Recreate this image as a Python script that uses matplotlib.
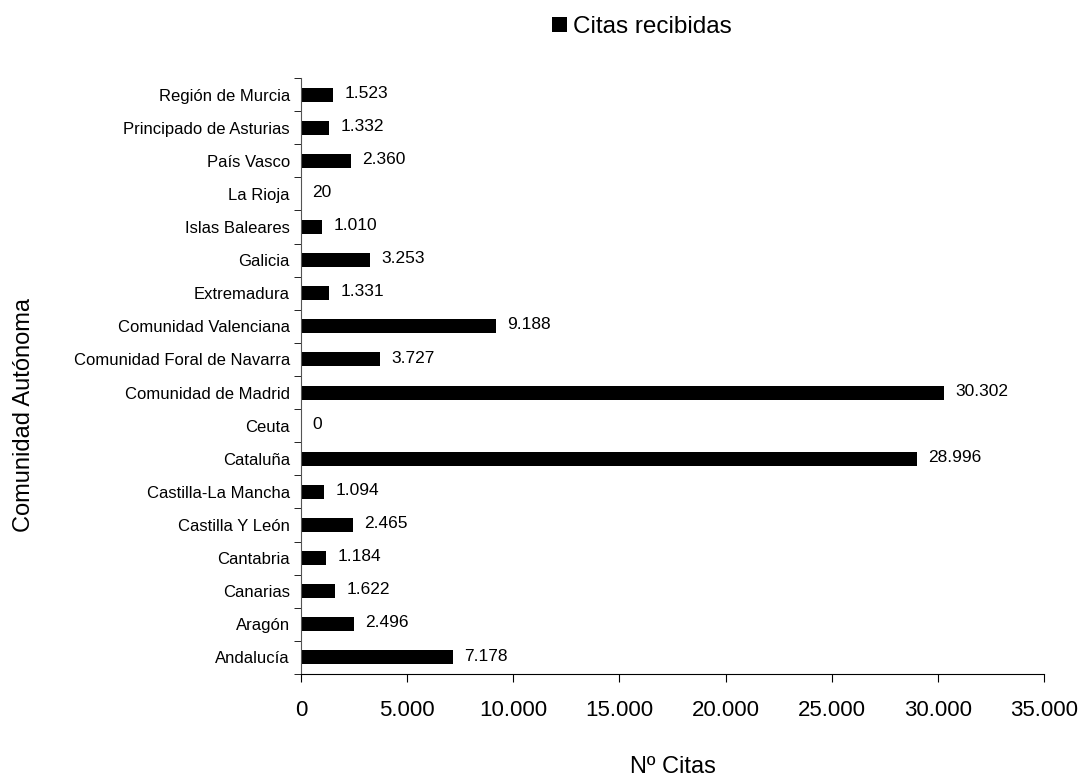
import numpy as np
import matplotlib.pyplot as plt
from matplotlib.ticker import FuncFormatter

plt.rcParams['font.family'] = ['Liberation Sans', 'DejaVu Sans']

comunidades = ['Andalucía', 'Aragón', 'Canarias', 'Cantabria', 'Castilla Y León',
               'Castilla-La Mancha', 'Cataluña', 'Ceuta', 'Comunidad de Madrid',
               'Comunidad Foral de Navarra', 'Comunidad Valenciana', 'Extremadura',
               'Galicia', 'Islas Baleares', 'La Rioja', 'País Vasco',
               'Principado de Asturias', 'Región de Murcia']
citas = [7178, 2496, 1622, 1184, 2465, 1094, 28996, 0, 30302,
         3727, 9188, 1331, 3253, 1010, 20, 2360, 1332, 1523]


def miles(v):
    return '{:,.0f}'.format(v).replace(',', '.')


fig = plt.figure(figsize=(10.78, 7.78), dpi=100)
ax = fig.add_axes([301/1078, 1 - 674/778, 743/1078, 596/778])

y = np.arange(len(comunidades))
ax.barh(y, citas, height=0.42, color='black', label='Citas recibidas')

# etiquetas de valor
for yi, v in zip(y, citas):
    ax.annotate(miles(v), (v, yi), xytext=(8, 1), textcoords='offset points',
                va='center', ha='left', fontsize=12.5)

ax.set_xlim(0, 35000)
ax.set_ylim(-0.5, len(comunidades) - 0.5)
ax.set_xticks(np.arange(0, 35001, 5000))
ax.xaxis.set_major_formatter(FuncFormatter(lambda v, p: miles(v)))
ax.tick_params(axis='x', labelsize=16, length=6, pad=13)

ax.set_yticks(y)
ax.set_yticklabels(comunidades, fontsize=12)
ax.set_yticks(np.arange(-0.5, len(comunidades)), minor=True)
ax.tick_params(axis='y', which='major', length=0, pad=8)
ax.tick_params(axis='y', which='minor', length=5)

for s in ['top', 'right']:
    ax.spines[s].set_visible(False)
ax.spines['left'].set_color('#555555')

# titulos de ejes
fig.text(673/1078, 5/778, 'Nº Citas', fontsize=17, ha='center', va='baseline')
fig.text(24/1078, 1 - 415/778, 'Comunidad Autónoma', fontsize=17,
         rotation=90, ha='center', va='center')

ax.legend(loc='center left', bbox_to_anchor=(552/1078, 1 - 27/778),
          bbox_transform=fig.transFigure, frameon=False, fontsize=17.5,
          borderpad=0, borderaxespad=0,
          handlelength=0.62, handleheight=0.62, handletextpad=0.25)

fig.savefig('out.png', dpi=100)
